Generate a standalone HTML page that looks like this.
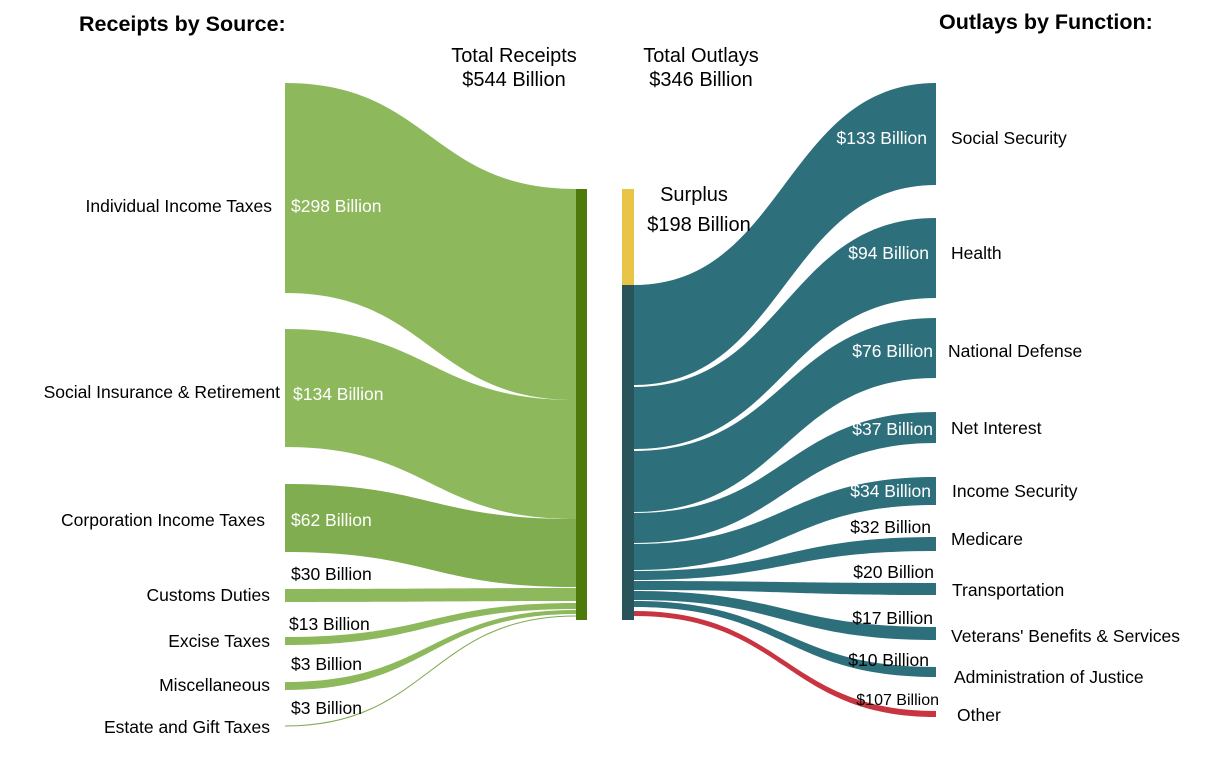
<!DOCTYPE html>
<html><head><meta charset="utf-8"><style>
body{margin:0;background:#fff}
svg{display:block;font-family:"Liberation Sans",Arial,sans-serif}
</style></head><body>
<svg width="1229" height="767" viewBox="0 0 1229 767">
<g>
<path d="M285,83 C430,83 430,189 576,189 L576,400 C430,400 430,293 285,293 Z" fill="#8db85c"/>
<path d="M285,329 C430,329 430,400 576,400 L576,519 C430,519 430,447 285,447 Z" fill="#8db85c"/>
<path d="M285,484 C430,484 430,519 576,519 L576,587 C430,587 430,552 285,552 Z" fill="#80ad4f"/>
<path d="M285,589 C430,589 430,588 576,588 L576,601 C430,601 430,602 285,602 Z" fill="#8db85c"/>
<path d="M285,637 C430,637 430,603 576,603 L576,609 C430,609 430,645 285,645 Z" fill="#8db85c"/>
<path d="M285,682 C430,682 430,610 576,610 L576,614 C430,614 430,690 285,690 Z" fill="#8db85c"/>
<path d="M285,726 C430,726 430,616 576,616" stroke="#7fa84f" stroke-width="1" fill="none"/>
<rect x="576" y="189" width="11" height="431" fill="#4d7a0a"/>
</g>
<g>
<path d="M634,285 C785,285 785,83 936,83 L936,185 C785,185 785,385 634,385 Z" fill="#2e6f7c"/>
<path d="M634,387 C785,387 785,218 936,218 L936,298 C785,298 785,449 634,449 Z" fill="#2e6f7c"/>
<path d="M634,451 C785,451 785,318 936,318 L936,378 C785,378 785,512 634,512 Z" fill="#2e6f7c"/>
<path d="M634,513 C785,513 785,412 936,412 L936,443 C785,443 785,543 634,543 Z" fill="#2e6f7c"/>
<path d="M634,544 C785,544 785,477 936,477 L936,505 C785,505 785,570 634,570 Z" fill="#2e6f7c"/>
<path d="M634,571 C785,571 785,537 936,537 L936,551 C785,551 785,580 634,580 Z" fill="#2e6f7c"/>
<path d="M634,581 C785,581 785,583 936,583 L936,595 C785,595 785,590 634,590 Z" fill="#2e6f7c"/>
<path d="M634,591 C785,591 785,627 936,627 L936,640 C785,640 785,600 634,600 Z" fill="#2e6f7c"/>
<path d="M634,601 C785,601 785,667 936,667 L936,677 C785,677 785,607 634,607 Z" fill="#2e6f7c"/>
<path d="M634,611 C785,611 785,711 936,711 L936,717 C785,717 785,616 634,616 Z" fill="#c8343f"/>
<rect x="622" y="189" width="12" height="96" fill="#e8c547"/>
<rect x="622" y="285" width="12" height="335" fill="#2a545c"/>
</g>
<g font-size="17.5" fill="#000">
<text x="79" y="31" font-weight="bold" font-size="21.5">Receipts by Source:</text>
<text x="939" y="29" font-weight="bold" font-size="21.5">Outlays by Function:</text>
<text x="514" y="62" text-anchor="middle" font-size="20">Total Receipts</text>
<text x="514" y="86" text-anchor="middle" font-size="20">$544 Billion</text>
<text x="701" y="62" text-anchor="middle" font-size="20">Total Outlays</text>
<text x="701" y="86" text-anchor="middle" font-size="20">$346 Billion</text>
<text x="694" y="201" text-anchor="middle" font-size="20">Surplus</text>
<text x="699" y="231" text-anchor="middle" font-size="20">$198 Billion</text>
<text x="272" y="212" text-anchor="end">Individual Income Taxes</text>
<text x="280" y="398" text-anchor="end">Social Insurance &amp; Retirement</text>
<text x="265" y="526" text-anchor="end">Corporation Income Taxes</text>
<text x="270" y="601" text-anchor="end">Customs Duties</text>
<text x="270" y="647" text-anchor="end">Excise Taxes</text>
<text x="270" y="691" text-anchor="end">Miscellaneous</text>
<text x="270" y="733" text-anchor="end">Estate and Gift Taxes</text>
<text x="291" y="212" fill="#fff">$298 Billion</text>
<text x="293" y="400" fill="#fff">$134 Billion</text>
<text x="291" y="526" fill="#fff">$62 Billion</text>
<text x="291" y="580">$30 Billion</text>
<text x="289" y="630">$13 Billion</text>
<text x="291" y="670">$3 Billion</text>
<text x="291" y="714">$3 Billion</text>
<text x="927" y="144" text-anchor="end" fill="#fff">$133 Billion</text>
<text x="929" y="259" text-anchor="end" fill="#fff">$94 Billion</text>
<text x="933" y="357" text-anchor="end" fill="#fff">$76 Billion</text>
<text x="933" y="435" text-anchor="end" fill="#fff">$37 Billion</text>
<text x="931" y="497" text-anchor="end" fill="#fff">$34 Billion</text>
<text x="931" y="533" text-anchor="end">$32 Billion</text>
<text x="934" y="578" text-anchor="end">$20 Billion</text>
<text x="933" y="624" text-anchor="end">$17 Billion</text>
<text x="929" y="666" text-anchor="end">$10 Billion</text>
<text x="939" y="705" text-anchor="end" font-size="16">$107 Billion</text>
<text x="951" y="144">Social Security</text>
<text x="951" y="259">Health</text>
<text x="948" y="357">National Defense</text>
<text x="951" y="434">Net Interest</text>
<text x="952" y="497">Income Security</text>
<text x="951" y="545">Medicare</text>
<text x="952" y="596">Transportation</text>
<text x="951" y="642">Veterans' Benefits &amp; Services</text>
<text x="954" y="683">Administration of Justice</text>
<text x="957" y="721">Other</text>
</g>
</svg>
</body></html>
